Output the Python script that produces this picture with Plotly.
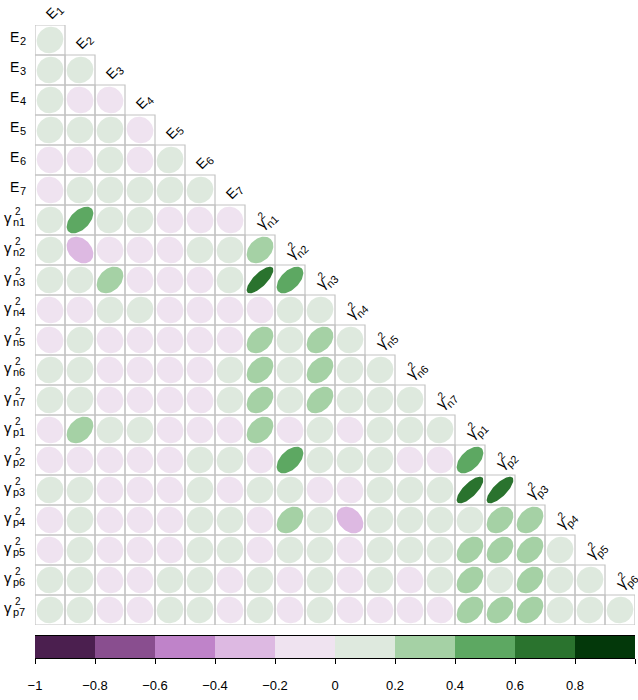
import numpy as np
import plotly.graph_objects as go

# ---------------- data ----------------
var_base = ["E"] * 7 + ["γ"] * 14
var_sub = ["1", "2", "3", "4", "5", "6", "7",
           "n1", "n2", "n3", "n4", "n5", "n6", "n7",
           "p1", "p2", "p3", "p4", "p5", "p6", "p7"]
var_sup = [""] * 7 + ["2"] * 14

# lower-triangle correlations: row k is variable k+1 vs variables 0..k
corr_rows = [
    [0.08],
    [0.07, 0.06],
    [0.05, -0.06, -0.08],
    [0.09, 0.05, 0.08, -0.07],
    [-0.05, -0.08, 0.06, -0.09, 0.10],
    [-0.07, 0.05, 0.08, 0.06, 0.09, 0.07],
    [0.05, 0.50, 0.08, 0.06, -0.05, -0.07, -0.06],
    [0.06, -0.30, -0.05, -0.07, -0.08, 0.05, 0.07, 0.32],
    [0.05, 0.07, 0.33, -0.06, -0.05, -0.04, 0.06, 0.75, 0.52],
    [-0.07, -0.05, 0.06, 0.08, -0.05, -0.06, -0.05, -0.08, 0.05, 0.07],
    [-0.06, 0.08, -0.07, -0.05, -0.06, -0.08, -0.05, 0.33, 0.06, 0.32, 0.05],
    [0.07, 0.06, -0.07, -0.05, -0.06, -0.05, 0.08, 0.33, 0.06, 0.35, 0.07, 0.06],
    [0.06, 0.08, -0.05, -0.07, -0.06, -0.08, 0.07, 0.32, 0.06, 0.36, 0.05, 0.07, 0.06],
    [-0.06, 0.34, 0.07, 0.05, -0.06, -0.05, -0.07, 0.33, -0.06, 0.08, -0.09, 0.06, 0.05, 0.07],
    [-0.07, -0.06, -0.05, -0.08, -0.06, 0.05, 0.07, -0.06, 0.50, 0.07, 0.06, 0.08, -0.07, -0.06, 0.52],
    [0.06, 0.07, -0.05, -0.06, -0.07, 0.08, -0.06, 0.05, 0.07, -0.05, -0.08, 0.06, 0.07, 0.08, 0.74, 0.75],
    [-0.05, 0.06, -0.07, -0.06, -0.05, 0.07, 0.05, -0.06, 0.33, 0.08, -0.30, 0.06, 0.07, 0.05, 0.09, 0.32, 0.33],
    [-0.06, 0.07, -0.05, -0.08, -0.06, 0.06, 0.05, -0.07, 0.06, 0.08, -0.06, 0.07, 0.05, 0.06, 0.34, 0.33, 0.34, 0.08],
    [0.05, 0.06, -0.07, -0.06, 0.05, 0.07, -0.06, 0.08, -0.05, 0.07, -0.06, 0.05, -0.07, 0.06, 0.34, 0.09, 0.33, 0.07, 0.06],
    [0.06, 0.05, -0.06, -0.07, 0.05, 0.06, -0.05, 0.07, -0.06, 0.08, -0.07, -0.05, -0.06, -0.08, 0.33, 0.32, 0.33, 0.06, 0.07, 0.05],
]

bin_edges = [-1.0, -0.8, -0.6, -0.4, -0.2, 0.0, 0.2, 0.4, 0.6, 0.8, 1.0]
bin_colors = ["#4B1F4F", "#894E8F", "#BF83C9", "#DDB9E2", "#EFE3F0",
              "#DEE9DE", "#A5D1A5", "#5DA862", "#2A732E", "#03380A"]
tick_vals = [-1.0, -0.8, -0.6, -0.4, -0.2, 0.0, 0.2, 0.4, 0.6, 0.8, 1.0]
tick_text = ["\u22121", "\u22120.8", "\u22120.6", "\u22120.4", "\u22120.2", "0",
             "0.2", "0.4", "0.6", "0.8", "1"]

# ---------------- geometry ----------------
W, H = 638, 700
ML, MR, MT, MB = 35, 3, 25, 40
plot_h = H - MT - MB
main_dom = [(H - MB - 625) / plot_h, 1.0]
cbar_dom = [(H - MB - 658) / plot_h, (H - MB - 636) / plot_h]
n = len(corr_rows)
FONT = "Liberation Sans, Arial, Helvetica, sans-serif"
ELL_SCALE = 0.445

fig = go.Figure()

# grid
gx, gy = [], []
for i, row in enumerate(corr_rows):
    for j in range(len(row)):
        gx += [j - 0.5, j + 0.5, j + 0.5, j - 0.5, j - 0.5, None]
        gy += [i - 0.5, i - 0.5, i + 0.5, i + 0.5, i - 0.5, None]
fig.add_trace(go.Scatter(x=gx, y=gy, mode="lines",
                         line=dict(color="#C4C4C4", width=1.2),
                         hoverinfo="skip", showlegend=False))

# ellipses grouped by colour bin
k = np.linspace(0, 2 * np.pi, 80)
ex = {b: [] for b in range(10)}
ey = {b: [] for b in range(10)}
for i, row in enumerate(corr_rows):
    for j, r in enumerate(row):
        b = int(np.clip(np.searchsorted(bin_edges, r, side="right") - 1, 0, 9))
        a = np.arccos(r)
        xs = j + ELL_SCALE * np.cos(k + a / 2)
        ys = i - ELL_SCALE * np.cos(k - a / 2)
        ex[b] += list(xs) + [None]
        ey[b] += list(ys) + [None]
for b in range(10):
    if ex[b]:
        fig.add_trace(go.Scatter(x=ex[b], y=ey[b], mode="lines", fill="toself",
                                 fillcolor=bin_colors[b],
                                 line=dict(width=0, color=bin_colors[b]),
                                 hoverinfo="skip", showlegend=False))

# colour bar as bars on a second axis pair
centers = [(bin_edges[q] + bin_edges[q + 1]) / 2 for q in range(10)]
fig.add_trace(go.Bar(x=centers, y=[1] * 10, width=0.2, marker_color=bin_colors,
                     marker_line_width=0, xaxis="x2", yaxis="y2",
                     hoverinfo="skip", showlegend=False))

ann = []
# row labels
for i in range(n):
    v = i + 1
    if var_base[v] == "E":
        ann.append(dict(x=-0.5, y=i, text="E", xanchor="right", yanchor="middle",
                        xshift=-14.5, yshift=3, font=dict(size=14)))
        ann.append(dict(x=-0.5, y=i, text=var_sub[v], xanchor="left", yanchor="middle",
                        xshift=-17, yshift=-1, font=dict(size=11)))
    else:
        ann.append(dict(x=-0.5, y=i, text="γ", xanchor="right", yanchor="middle",
                        xshift=-21.5, yshift=3, font=dict(size=15)))
        ann.append(dict(x=-0.5, y=i, text=var_sub[v], xanchor="left", yanchor="middle",
                        xshift=-24, yshift=-1.5, font=dict(size=11)))
        ann.append(dict(x=-0.5, y=i, text=var_sup[v], xanchor="left", yanchor="middle",
                        xshift=-22, yshift=9, font=dict(size=10)))

# column labels (rotated)
for j in range(n):
    if var_base[j] == "E":
        pieces = [("E", 14, 1.8, -11.8), (var_sub[j], 11, 9.6, -14.0)]
    else:
        pieces = [("γ", 15, 0.5, -12.0), (var_sub[j], 11, 11.5, -13.5),
                  (var_sup[j], 10, 1.0, -20.0)]
    for txt, fs, dx, dy in pieces:
        ann.append(dict(x=j, y=j - 0.5, text=txt, textangle=-45,
                        xanchor="center", yanchor="middle",
                        xshift=dx, yshift=-dy, font=dict(size=fs)))

for a in ann:
    a.update(xref="x", yref="y", showarrow=False)
    a["font"].update(family=FONT, color="black")

fig.update_layout(
    width=W, height=H,
    margin=dict(l=ML, r=MR, t=MT, b=MB, pad=0),
    paper_bgcolor="white", plot_bgcolor="white",
    showlegend=False,
    annotations=ann,
    xaxis=dict(range=[-0.5, n - 0.5], domain=[0, 1], visible=False, fixedrange=True),
    yaxis=dict(range=[n - 0.5, -0.5], domain=main_dom, visible=False, fixedrange=True),
    xaxis2=dict(range=[-1, 1], domain=[0, 1], anchor="y2",
                tickmode="array", tickvals=tick_vals, ticktext=tick_text,
                ticks="outside", ticklen=5, tickwidth=1, tickcolor="black",
                showline=True, linecolor="black", linewidth=1, mirror=True,
                showgrid=False, zeroline=False, ticklabelstandoff=10,
                tickfont=dict(family=FONT, size=13, color="black")),
    yaxis2=dict(range=[0, 1], domain=cbar_dom, anchor="x2", visible=False),
)

fig.write_html("out.html", config={"displayModeBar": False},
               post_script="document.body.style.margin='0';")
